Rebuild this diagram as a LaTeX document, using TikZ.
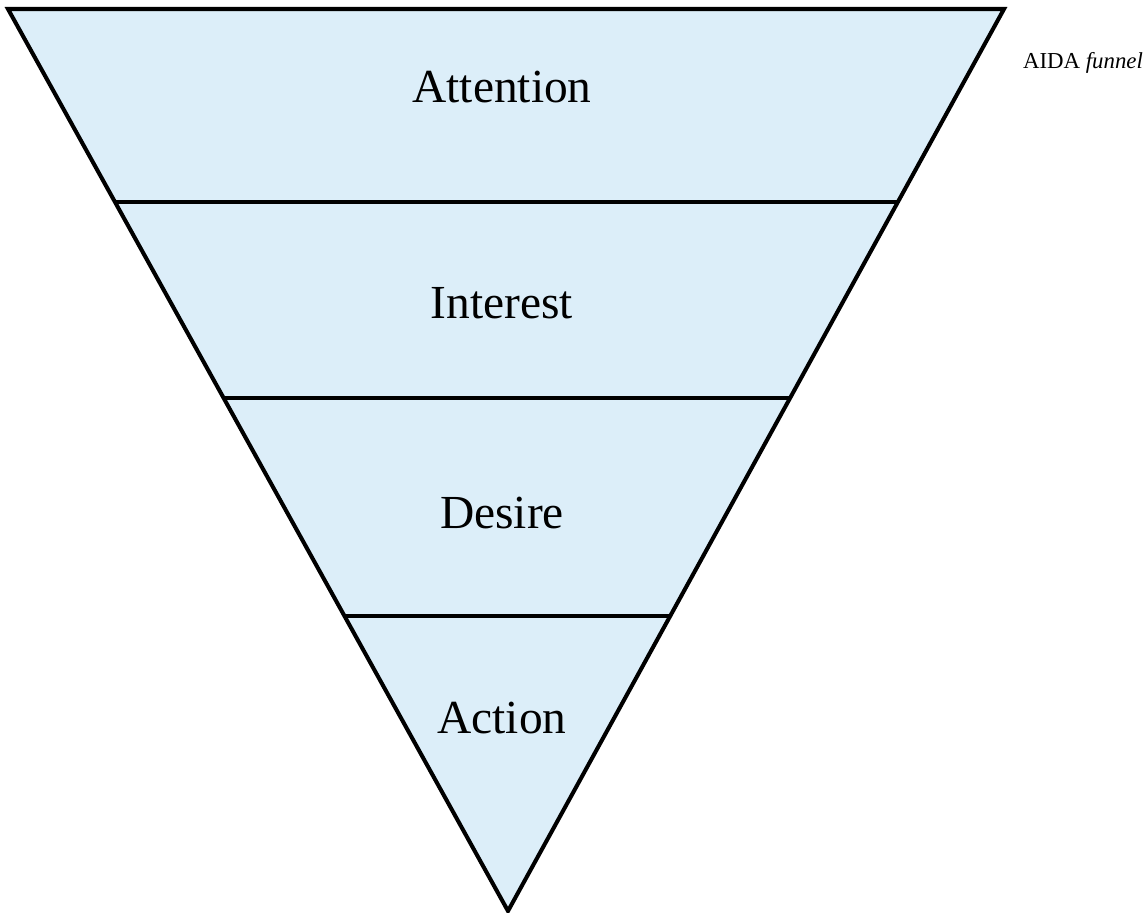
\documentclass[tikz,border=0pt]{standalone}
\usepackage{fontspec}
\setmainfont{Liberation Serif}
\usetikzlibrary{calc}
\definecolor{funnelblue}{RGB}{220,238,249}
\tikzset{
  band/.style={draw=black,line width=2.3pt,line join=miter},
  stage/.style={font=\fontsize{27}{32}\selectfont,inner sep=0pt}
}
\begin{document}
\begin{tikzpicture}[x=0.02cm,y=-0.02cm]
    \useasboundingbox (0,0) rectangle (1147,913);
    % corners of the funnel
    \coordinate (tl) at (8,9);
    \coordinate (tr) at (1004,9);
    \coordinate (apex) at (508,911);
    \filldraw[band,fill=funnelblue] (tl) -- (tr) -- (apex) -- cycle;
    % stage borders
    \draw[band] ($(tl)!0.2137!(apex)$) -- ($(tr)!0.2137!(apex)$);
    \draw[band] ($(tl)!0.4308!(apex)$) -- ($(tr)!0.4308!(apex)$);
    \draw[band] ($(tl)!0.6733!(apex)$) -- ($(tr)!0.6733!(apex)$);
    % labels
    \node[stage] (attention) at (502,87) {Attention};
    \node[stage] (interest) at (502,303) {Interest};
    \node[stage] (desire) at (502,513) {Desire};
    \node[stage] (action) at (502,718) {Action};
    \node[font=\fontsize{13}{15}\selectfont,inner sep=0pt] (title) at (1083,63) {AIDA \textit{funnel}};
\end{tikzpicture}
\end{document}
